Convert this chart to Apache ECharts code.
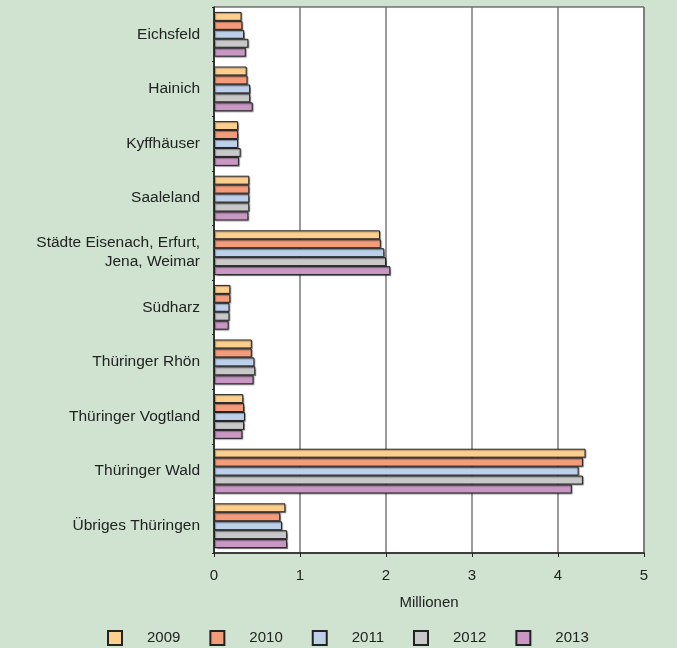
<!DOCTYPE html>
<html>
<head>
<meta charset="utf-8">
<script src="https://cdn.jsdelivr.net/npm/echarts@6/dist/echarts.min.js"></script>
<style>
  html, body { margin: 0; padding: 0; background: #cfe3d0; }
  #chart { width: 677px; height: 648px; }
</style>
</head>
<body>
<div id="chart"></div>
<script>
const regions = ['Eichsfeld', 'Hainich', 'Kyffhäuser', 'Saaleland', 'Städte Eisenach, Erfurt,\nJena, Weimar',
  'Südharz', 'Thüringer Rhön', 'Thüringer Vogtland', 'Thüringer Wald', 'Übriges Thüringen']
const years = ['2009', '2010', '2011', '2012', '2013']
const colors = ['#fccf8e', '#f49c7a', '#bcd0ea', '#c8c8c8', '#c897c4']
const xTicks = [0, 1, 2, 3, 4, 5]

// Millionen, je Jahr
const v2009 = [0.32, 0.38, 0.28, 0.41, 1.93, 0.19, 0.44, 0.34, 4.32, 0.83]
const v2010 = [0.33, 0.39, 0.28, 0.41, 1.94, 0.19, 0.44, 0.35, 4.29, 0.77]
const v2011 = [0.35, 0.42, 0.28, 0.41, 1.98, 0.18, 0.47, 0.36, 4.24, 0.79]
const v2012 = [0.40, 0.42, 0.31, 0.41, 2.00, 0.18, 0.48, 0.35, 4.29, 0.85]
const v2013 = [0.37, 0.45, 0.29, 0.40, 2.05, 0.17, 0.46, 0.33, 4.16, 0.85]
const values = [v2009, v2010, v2011, v2012, v2013]

const myChart = echarts.init(document.getElementById('chart'))

const textColor = '#222'
const font = 'Liberation Sans, Arial, sans-serif'

const option = {
  backgroundColor: '#cfe3d0',
  textStyle: { fontFamily: font },
  grid: {
    left: 214, top: 7, right: 33, bottom: 95,
    show: true, backgroundColor: '#fff', borderColor: '#333', borderWidth: 1
  },
  xAxis: {
    type: 'value',
    min: xTicks[0],
    max: xTicks[xTicks.length - 1],
    interval: 1,
    name: 'Millionen',
    nameLocation: 'middle',
    nameGap: 42,
    nameTextStyle: { color: textColor, fontSize: 15, fontFamily: font },
    axisLine: { show: true, lineStyle: { color: '#222', width: 1.5 } },
    axisTick: { show: true, length: 4, lineStyle: { color: '#222' } },
    axisLabel: { color: textColor, fontSize: 15, margin: 15, fontFamily: font },
    splitLine: { show: true, lineStyle: { color: '#7a7a7a', width: 1.5 } }
  },
  yAxis: {
    type: 'category',
    data: regions,
    inverse: true,
    axisLine: { show: true, lineStyle: { color: '#222', width: 1.5 } },
    axisTick: { show: true, length: 2, lineStyle: { color: '#222' } },
    axisLabel: { color: textColor, fontSize: 15.5, margin: 14, lineHeight: 19, fontFamily: font }
  },
  legend: {
    left: 102,
    top: 625,
    itemWidth: 14,
    itemHeight: 14,
    itemGap: 29,
    icon: 'rect',
    textStyle: { color: textColor, fontSize: 15, padding: [0, 0, 0, 20], fontFamily: font },
    data: years
  },
  series: years.map((y, i) => ({
    name: y,
    type: 'bar',
    data: values[i],
    barGap: '0%',
    barCategoryGap: '18%',
    itemStyle: {
      color: colors[i],
      borderColor: '#222',
      borderWidth: 1,
      shadowColor: 'rgba(0,0,0,0.35)',
      shadowOffsetX: 1,
      shadowOffsetY: 1,
      shadowBlur: 1
    }
  }))
}
option && myChart.setOption(option)
</script>
</body>
</html>
